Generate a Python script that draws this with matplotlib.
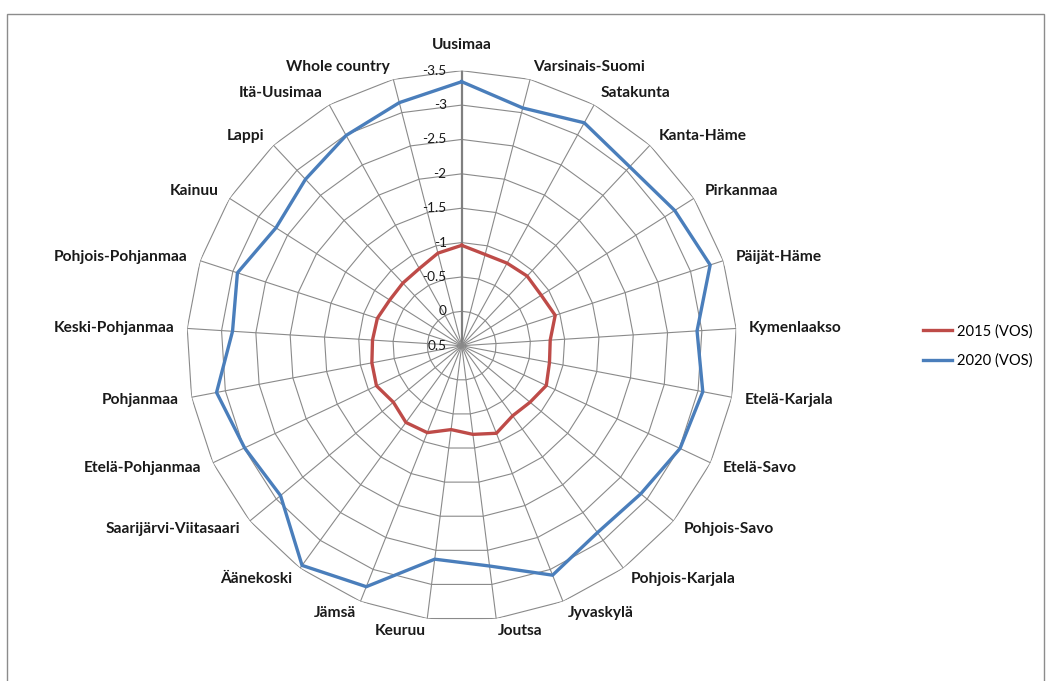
import numpy as np
import matplotlib
matplotlib.use('Agg')
import matplotlib.pyplot as plt
from matplotlib.transforms import offset_copy
from matplotlib.lines import Line2D
from matplotlib.patches import Rectangle

categories = ["Uusimaa", "Varsinais-Suomi", "Satakunta", "Kanta-Häme", "Pirkanmaa",
              "Päijät-Häme", "Kymenlaakso", "Etelä-Karjala", "Etelä-Savo", "Pohjois-Savo",
              "Pohjois-Karjala", "Jyvaskylä", "Joutsa", "Keuruu", "Jämsä", "Äänekoski",
              "Saarijärvi-Viitasaari", "Etelä-Pohjanmaa", "Pohjanmaa", "Keski-Pohjanmaa",
              "Pohjois-Pohjanmaa", "Kainuu", "Lappi", "Itä-Uusimaa", "Whole country"]
values_2015 = [-0.96, -0.87, -0.87, -0.89, -0.87, -0.93, -0.79, -0.80, -0.86, -0.79,
               -0.76, -0.87, -0.80, -0.73, -0.86, -0.88, -0.79, -0.87, -0.83, -0.80,
               -0.79, -0.74, -0.75, -0.78, -0.89]
values_2020 = [-3.34, -3.07, -3.20, -3.07, -3.17, -3.30, -2.93, -3.07, -3.01, -2.88,
               -2.86, -3.09, -2.73, -2.63, -3.27, -3.45, -2.92, -2.99, -3.13, -2.84,
               -2.93, -2.70, -2.82, -2.99, -3.15]
series_names = ["2015 (VOS)", "2020 (VOS)"]
series_colors = ["#BE4B48", "#4A7EBB"]
r_ticks = [0.5, 0, -0.5, -1, -1.5, -2, -2.5, -3, -3.5]
tick_labels = ["0.5", "0", "-0.5", "-1", "-1.5", "-2", "-2.5", "-3", "-3.5"]

plt.rcParams['font.family'] = ['Lato', 'DejaVu Sans']

W, H = 1047, 681
fig = plt.figure(figsize=(W / 100, H / 100), dpi=100)
fig.patch.set_facecolor('white')

cx, cy, R = 461.7, 345.7, 275.0
ax = fig.add_axes([(cx - R) / W, (H - cy - R) / H, 2 * R / W, 2 * R / H], projection='polar')
ax.set_theta_zero_location('N')
ax.set_theta_direction(-1)
ax.set_ylim(r_ticks[0], r_ticks[-1])
ax.grid(False)
ax.set_xticks([])
ax.set_yticks([])
ax.spines['polar'].set_visible(False)
ax.patch.set_alpha(0)

N = len(categories)
theta = np.arange(N) * 2 * np.pi / N
tc = np.append(theta, theta[0])
grid_c = '#8A8A8A'
for v in r_ticks[1:]:
    ax.plot(tc, [v] * (N + 1), color=grid_c, lw=0.8, zorder=1)
for i, t in enumerate(theta):
    ax.plot([t, t], [r_ticks[0], r_ticks[-1]], color='#808080' if i == 0 else grid_c,
            lw=1.6 if i == 0 else 0.8, zorder=1)

for vals, c in zip([values_2015, values_2020], series_colors):
    ax.plot(tc, np.append(vals, vals[0]), color=c, lw=2.4, zorder=3,
            solid_joinstyle='miter')

# value axis labels
for v, lab in zip(r_ticks, tick_labels):
    tr = offset_copy(ax.transData, fig=fig, x=-15, y=0, units='dots')
    ax.text(0, v, lab, transform=tr, ha='right', va='center', fontsize=9.8,
            color='#1a1a1a', zorder=4)

# category labels
pad = 13
for i, (t, lab) in enumerate(zip(theta, categories)):
    s, c = np.sin(t), np.cos(t)
    if i == 0:
        tr = offset_copy(ax.transData, fig=fig, x=0, y=19, units='dots')
        ha, va = 'center', 'bottom'
    else:
        tr = offset_copy(ax.transData, fig=fig, x=pad * s, y=pad * c, units='dots')
        ha = 'left' if s > 0 else 'right'
        va = 'center'
    ax.text(t, r_ticks[-1], lab, transform=tr, ha=ha, va=va, fontsize=11.2,
            fontweight='bold', color='#1a1a1a', zorder=4)

handles = [Line2D([], [], color=c, lw=2.4) for c in series_colors]
fig.legend(handles, series_names, loc='center left',
           bbox_to_anchor=(923 / W, (H - 346) / H), frameon=False, fontsize=10.6,
           handlelength=2.0, handletextpad=0.3, labelspacing=1.0, borderpad=0,
           borderaxespad=0)

fig.patches.append(Rectangle((7 / W, -0.02), (1044 - 7) / W, (H - 14) / H + 0.02,
                             transform=fig.transFigure, fill=False,
                             edgecolor='#8C8C8C', lw=1))

fig.savefig('out.png', dpi=100)
